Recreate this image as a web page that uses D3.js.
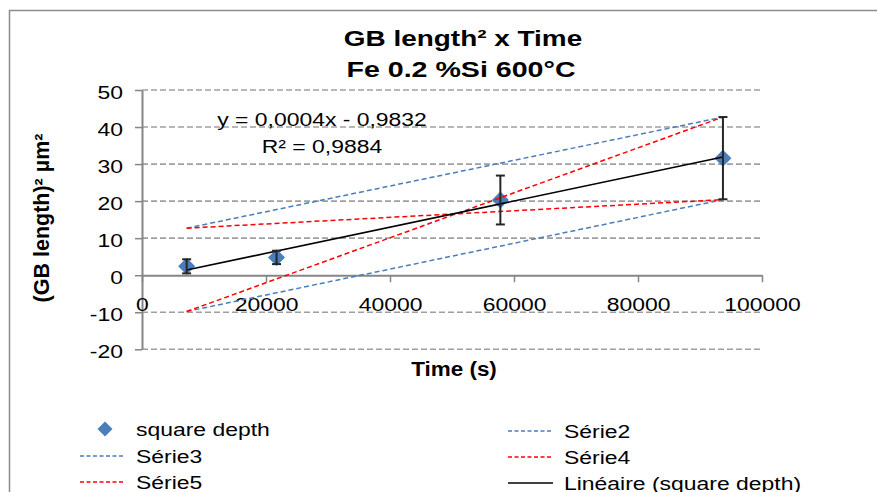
<!DOCTYPE html>
<html><head><meta charset="utf-8">
<script src="https://cdn.jsdelivr.net/npm/d3@7"></script>
<style>
html,body{margin:0;padding:0;background:#fff;overflow:hidden;width:877px;height:492px}
svg{display:block;position:absolute;left:0;top:0}
text{font-family:"Liberation Sans",Arial,sans-serif;fill:#000}
</style>
</head><body>
<script>
// ---- data ----
const times = [7200, 21700, 57800, 93700];
const squareDepth = [2.4, 4.8, 20.3, 31.6];
const errorBars = [1.9, 1.8, 6.6, 11.1];
const boundTimes = [7200, 93700];
const serie2 = [12.7, 42.7];
const serie3 = [-9.8, 20.4];
const serie4 = [12.7, 20.4];
const serie5 = [-9.8, 42.7];
const xTicks = [0, 20000, 40000, 60000, 80000, 100000];
const yTicks = [-20, -10, 0, 10, 20, 30, 40, 50];
const titleLines = ["GB length² x Time", "Fe 0.2 %Si 600°C"];
const xTitle = "Time (s)";
const yTitle = "(GB length)² µm²";
const equationLines = ["y = 0,0004x - 0,9832", "R² = 0,9884"];
const legendLabels = ["square depth", "Série2", "Série3", "Série4", "Série5", "Linéaire (square depth)"];

const W = 877, H = 492;
const BLUE = "#4a7ebb", RED = "#ff0000", AXIS = "#868686", GRID = "#a0a0a0";
const SX = 1.24; // horizontal text stretch

const svg = d3.select("body").append("svg").attr("width", W).attr("height", H);

// chart frame (only top and left edges fall inside the picture)
svg.append("line").attr("x1", 9.5).attr("x2", 9.5).attr("y1", 10).attr("y2", H)
  .attr("stroke", "#8c8c8c").attr("stroke-width", 1.5);
svg.append("line").attr("x1", 9).attr("x2", W).attr("y1", 10.5).attr("y2", 10.5)
  .attr("stroke", "#8c8c8c").attr("stroke-width", 1.5);

const x = d3.scaleLinear().domain([0, 100000]).range([142, 762]);
const y = d3.scaleLinear().domain([-20, 50]).range([349.3, 90]);

function label(parent, px, py, str, o = {}) {
  const k = o.k || SX;
  return parent.append("text")
    .attr("transform", `translate(${px},${py}) scale(${k},1)`)
    .attr("text-anchor", o.anchor || "start")
    .style("font-size", (o.size || 18.5) + "px")
    .style("font-weight", o.bold ? "bold" : "normal")
    .text(str);
}

// gridlines
svg.append("g").selectAll("line").data(yTicks.filter(d => d !== 0)).join("line")
  .attr("x1", x(0)).attr("x2", x(100000))
  .attr("y1", d => y(d)).attr("y2", d => y(d))
  .attr("stroke", GRID).attr("stroke-width", 1.6).attr("stroke-dasharray", "6,3");

const fmt = d => String(d);

// y axis
const yAxis = svg.append("g").attr("transform", `translate(${x(0)},0)`)
  .call(d3.axisLeft(y).tickValues(yTicks).tickSize(7).tickSizeOuter(0).tickFormat(fmt));
yAxis.select(".domain").attr("stroke", AXIS).attr("stroke-width", 2);
yAxis.selectAll(".tick line").attr("stroke", AXIS).attr("stroke-width", 1.5);
yAxis.selectAll(".tick text")
  .attr("x", -19 / SX).attr("dy", "0.45em").attr("transform", `scale(${SX},1)`)
  .style("font-size", "18.5px").attr("fill", "#000").attr("font-family", null);

// x axis at y=0
const xAxis = svg.append("g").attr("transform", `translate(0,${y(0)})`)
  .call(d3.axisBottom(x).tickValues(xTicks).tickSize(7).tickSizeOuter(0).tickFormat(fmt));
xAxis.select(".domain").attr("stroke", AXIS).attr("stroke-width", 2);
xAxis.selectAll(".tick line").attr("stroke", AXIS).attr("stroke-width", 1.5);
xAxis.selectAll(".tick text")
  .attr("y", 36).attr("dy", 0).attr("transform", `scale(${SX},1)`)
  .style("font-size", "18.5px").attr("fill", "#000").attr("font-family", null);

// data markers
const pts = times.map((t, i) => ({ t, v: squareDepth[i], e: errorBars[i] }));
const diamond = (cx, cy, r) => `M${cx},${cy - r}L${cx + r},${cy}L${cx},${cy + r}L${cx - r},${cy}Z`;
svg.append("g").selectAll("path").data(pts).join("path")
  .attr("d", d => diamond(x(d.t), y(d.v), 8.5)).attr("fill", BLUE);

// bound lines
const line = d3.line().x(d => x(d[0])).y(d => y(d[1]));
const bounds = [
  { vals: serie2, c: BLUE }, { vals: serie3, c: BLUE },
  { vals: serie4, c: RED }, { vals: serie5, c: RED }
];
svg.append("g").selectAll("path").data(bounds).join("path")
  .attr("d", b => line(boundTimes.map((t, i) => [t, b.vals[i]])))
  .attr("fill", "none").attr("stroke", b => b.c).attr("stroke-width", 1.5).attr("stroke-dasharray", "5,3");

// trendline (least squares on data)
const reg = (() => {
  const n = times.length, mx = d3.mean(times), my = d3.mean(squareDepth);
  let sxy = 0, sxx = 0;
  for (let i = 0; i < n; i++) { sxy += (times[i] - mx) * (squareDepth[i] - my); sxx += (times[i] - mx) ** 2; }
  const m = sxy / sxx; return { m, b: my - m * mx };
})();
const tx = d3.extent(times);
svg.append("path").attr("d", line(tx.map(t => [t, reg.m * t + reg.b])))
  .attr("fill", "none").attr("stroke", "#000").attr("stroke-width", 1.6);

// error bars
const eb = svg.append("g").attr("stroke", "#262626").attr("stroke-width", 2);
pts.forEach(d => {
  const cx = x(d.t), y1 = y(d.v + d.e), y2 = y(d.v - d.e);
  eb.append("line").attr("x1", cx).attr("x2", cx).attr("y1", y1).attr("y2", y2);
  eb.append("line").attr("x1", cx - 4.5).attr("x2", cx + 4.5).attr("y1", y1).attr("y2", y1);
  eb.append("line").attr("x1", cx - 4.5).attr("x2", cx + 4.5).attr("y1", y2).attr("y2", y2);
});

// equation
label(svg, 322, 125.5, equationLines[0], { anchor: "middle" });
label(svg, 322, 152.5, equationLines[1], { anchor: "middle" });

// titles
label(svg, 463, 45.5, titleLines[0], { anchor: "middle", bold: true, size: 22, k: 1.27 });
label(svg, 461, 77, titleLines[1], { anchor: "middle", bold: true, size: 22, k: 1.3 });
label(svg, 454, 375.5, xTitle, { anchor: "middle", bold: true, size: 21, k: 1.07 });
svg.append("text")
  .attr("transform", `translate(49,218) rotate(-90)`)
  .attr("text-anchor", "middle").style("font-size", "21.5px").style("font-weight", "bold")
  .text(yTitle);

// legend
const legend = [
  { name: legendLabels[0], type: "marker", x: 105, y: 429 },
  { name: legendLabels[1], type: "dash", c: BLUE, x: 508, y: 431 },
  { name: legendLabels[2], type: "dash", c: BLUE, x: 80, y: 456 },
  { name: legendLabels[3], type: "dash", c: RED, x: 508, y: 457 },
  { name: legendLabels[4], type: "dash", c: RED, x: 80, y: 482 },
  { name: legendLabels[5], type: "solid", c: "#000", x: 508, y: 483 }
];
const lg = svg.append("g");
legend.forEach(d => {
  let tx0;
  if (d.type === "marker") {
    lg.append("path").attr("d", diamond(d.x, d.y, 7.5)).attr("fill", BLUE);
    tx0 = 136;
  } else {
    lg.append("line").attr("x1", d.x).attr("x2", d.x + 45).attr("y1", d.y).attr("y2", d.y)
      .attr("stroke", d.c).attr("stroke-width", 1.5).attr("stroke-dasharray", d.type === "dash" ? "4,2.5" : null);
    tx0 = d.x + 56;
  }
  label(lg, tx0, d.y + 6.5, d.name);
});
</script>
</body></html>
